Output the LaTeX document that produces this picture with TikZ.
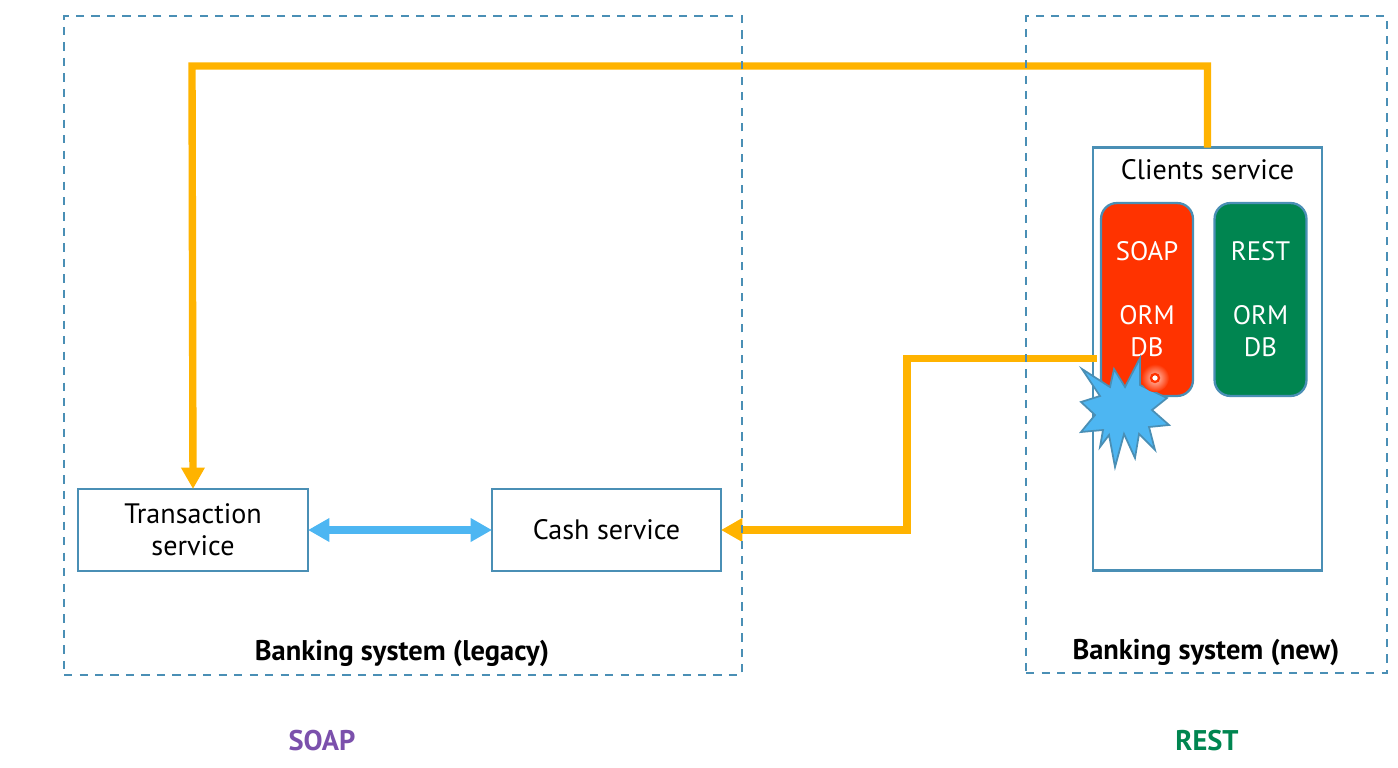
\documentclass[tikz,border=0pt]{standalone}
\usepackage{fontspec}
\setmainfont{PT Sans}
\usetikzlibrary{arrows.meta}
\definecolor{edgeblue}{HTML}{4A8FB5}
\definecolor{linkblue}{HTML}{4DB6F2}
\definecolor{feedgold}{HTML}{FFB300}
\definecolor{soapred}{HTML}{FF3300}
\definecolor{restgreen}{HTML}{008550}
\definecolor{soappurple}{HTML}{7B50AC}
\tikzset{
    sysbox/.style={draw=edgeblue,dash pattern=on 4.7pt off 4.1pt,line width=1.5pt,inner sep=0pt,outer sep=0pt},
    svcbox/.style={draw=edgeblue,line width=1.3pt,fill=white,inner sep=0pt,outer sep=0pt,align=center,font=\svcfont},
    stackbox/.style={draw=edgeblue,line width=1.3pt,rounded corners=9pt,minimum width=52.3pt,minimum height=109.8pt,
        inner sep=0pt,align=center,text=white,font=\stackfont},
    feedline/.style={draw=feedgold,line width=4.2pt,-{Triangle[length=12.2pt,width=12.8pt]}},
    linkline/.style={draw=linkblue,line width=4.2pt,{Triangle[length=12.2pt,width=12.8pt]}-{Triangle[length=12.2pt,width=12.8pt]}},
    syslabel/.style={font=\labelfont\bfseries}
}
\newcommand{\svcfont}{\fontsize{16}{18.2}\selectfont}
\newcommand{\stackfont}{\fontsize{15.2}{18.2}\selectfont}
\newcommand{\labelfont}{\fontsize{16.2}{18.2}\selectfont}
\begin{document}
\begin{tikzpicture}[x=0.02cm,y=-0.02cm]
    \useasboundingbox (0,0) rectangle (1398,767);
    % service boxes
    \node[svcbox,minimum width=130.9pt,minimum height=46.7pt] (transaction) at (193,530) {\raisebox{-0.5pt}{Transaction}\\\raisebox{-0.5pt}{service}};
    \node[svcbox,minimum width=130.3pt,minimum height=46.7pt] (cash) at (606.5,530) {\raisebox{-0.5pt}{Cash service}};
    \node[svcbox,minimum width=130.3pt,minimum height=240.7pt] (clients) at (1207.5,359) {};
    \node[font=\svcfont] (clientstitle) at (1207.5,170) {Clients service};
    \node[stackbox,fill=soapred] (soap) at (1147,299.5) {SOAP\\[18.2pt]ORM\\DB};
    \node[stackbox,fill=restgreen] (rest) at (1260.5,299.5) {REST\\[18.2pt]ORM\\DB};
    % connectors
    \coordinate (topbend) at (192,66);
    \coordinate (soapin) at (1097,358.5);
    \coordinate (midbend) at (907,358.5);
    \draw[feedline] (clients.north) |- (topbend) -- (transaction.north);
    \draw[feedline] (soapin) -- (midbend) -- (midbend |- cash.east) -- (cash.east);
    \draw[linkline] (transaction.east) -- (cash.west);
    % system frames
    \node[sysbox,minimum width=385.8pt,minimum height=375pt] (legacy) at (403,345.5) {};
    \node[sysbox,minimum width=205.4pt,minimum height=373.8pt] (newsys) at (1206.5,344.5) {};
    \node[syslabel] (legacylabel) at (402,653) {Banking system (legacy)};
    \node[syslabel] (newlabel) at (1206,652) {Banking system (new)};
    \node[syslabel,text=soappurple] (soaplabel) at (322,741) {SOAP};
    \node[syslabel,text=restgreen] (restlabel) at (1207,741) {REST};
    % the crash
    \draw[fill=linkblue,draw=edgeblue,line width=1pt,line join=miter]
        (1140,358) -- (1140,385) -- (1167,398) -- (1152,410) -- (1169,425) -- (1149,427)
        -- (1155,450) -- (1139,434) -- (1135,458) -- (1124,434) -- (1115,467) -- (1109,435)
        -- (1100,447) -- (1103,430) -- (1081,432) -- (1095,415) -- (1081,402) -- (1100,396)
        -- (1082,369) -- (1110,387) -- (1114,369) -- (1125,387) -- cycle;
    % pointer mark
    \shade[inner color=soapred!25,outer color=soapred] (1155,378) circle [radius=14];
    \draw[soapred,line width=1.3pt,fill=white] (1155,378) circle [radius=4];
\end{tikzpicture}
\end{document}
